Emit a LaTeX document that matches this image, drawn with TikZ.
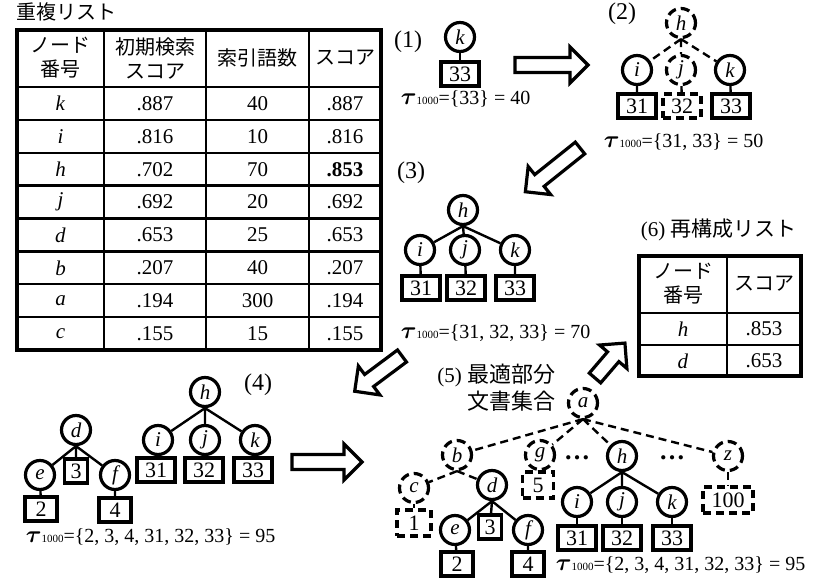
\documentclass[tikz,border=0pt]{standalone}
\usepackage{amsmath}
\usepackage{fontspec}
\setmainfont{Liberation Serif}
\newfontfamily\jp{Noto Sans CJK JP}
\usetikzlibrary{positioning}

\newcommand{\tauset}[1]{{\fontsize{13}{13}\selectfont$\boldsymbol{\tau}$}{\fontsize{5.5}{6}\selectfont 1000}#1}
\newcommand{\fatarrow}[3]{%
  \begin{scope}[shift={(#1)},rotate=#2]
    \draw[fat] (0,-7.5) -- ({#3-18},-7.5) -- ({#3-18},-18) -- (#3,0)
      -- ({#3-18},18) -- ({#3-18},7.5) -- (0,7.5) -- cycle;
  \end{scope}}

\begin{document}
\begin{tikzpicture}[x=0.5pt,y=-0.5pt,thick,
  font=\fontsize{10.5}{12.6}\selectfont,
  tnode/.style={circle,draw,line width=1.6pt,minimum size=14.5pt,inner sep=0pt,
    font=\fontsize{10.5}{12}\selectfont\itshape},
  dnode/.style={tnode,dash pattern=on 4.5pt off 2.5pt},
  doc/.style={rectangle,draw,line width=1.6pt,minimum width=19pt,minimum height=12pt,
    inner sep=0pt,font=\fontsize{11}{12}\selectfont},
  ddoc/.style={doc,dash pattern=on 4pt off 2.5pt},
  link/.style={line width=1.2pt},
  dlink/.style={line width=1.2pt,dash pattern=on 4pt off 2.5pt},
  fat/.style={line width=1.6pt,fill=white},
  tau/.style={anchor=base west,inner sep=0pt,font=\fontsize{10}{12}\selectfont},
  lbl/.style={font=\fontsize{12}{14}\selectfont,inner sep=0pt},
  tbl/.style={line width=1.2pt},
  jp/.style={font=\fontsize{10}{12}\selectfont\jp,align=center}]

  \useasboundingbox (0,0) rectangle (820,583);

  % duplicate list
  \node[inner sep=0pt,font=\fontsize{10}{12}\selectfont\jp] (dtitle) at (67,12) {重複リスト};
  \draw[tbl,line width=1.6pt] (17,30) rectangle (381,350);
  \foreach \x in {104,206,309} \draw[tbl] (\x,30) -- (\x,350);
  \foreach \n in {0,...,7} \draw[tbl] (17,{87+32.875*\n}) -- (381,{87+32.875*\n});
  \node[jp] (hd1) at (60.5,58) {ノード\\番号};
  \node[jp] (hd2) at (155,58) {初期検索\\スコア};
  \node[jp] (hd3) at (257.5,58) {索引語数};
  \node[jp] (hd4) at (345,58) {スコア};
  \foreach \n/\id/\ini/\num/\scr in {1/k/.887/40/.887,2/i/.816/10/.816,
      3/h/.702/70/\textbf{.853},4/j/.692/20/.692,5/d/.653/25/.653,
      6/b/.207/40/.207,7/a/.194/300/.194,8/c/.155/15/.155}{
    \node (id\n) at (60.5,{70.6+32.875*\n}) {\textit{\id}};
    \node (ini\n) at (155,{70.6+32.875*\n}) {\ini};
    \node (num\n) at (257.5,{70.6+32.875*\n}) {\num};
    \node (scr\n) at (345,{70.6+32.875*\n}) {\scr};
  }

  % (1)
  \node[lbl] (l1) at (408,42) {(1)};
  \node[tnode] (k1) at (460,37) {k};
  \node[doc] (b33a) at (460,74) {33};
  \draw[link] (k1) -- (b33a);
  \node[tau] (t1) at (400,105) {\tauset{=\{33\} = 40}};

  \fatarrow{515,65}{0}{73}

  % (2)
  \node[lbl] (l2) at (622,14) {(2)};
  \node[dnode] (h2) at (681,23) {h};
  \node[tnode] (i2) at (637,70) {i};
  \node[dnode] (j2) at (681,70) {j};
  \node[tnode] (k2) at (730,70) {k};
  \node[doc] (b31b) at (637,106) {31};
  \node[ddoc] (b32b) at (682,106) {32};
  \node[doc] (b33b) at (731,106) {33};
  \draw[dlink] (h2.south) -- (i2) (h2.south) -- (j2) (h2.south) -- (k2);
  \draw[link] (i2) -- (b31b) (k2) -- (b33b);
  \draw[dlink] (j2) -- (b32b);
  \node[tau] (t2) at (603,148) {\tauset{=\{31, 33\} = 50}};

  \fatarrow{580,148}{218.7}{70}

  % (3)
  \node[lbl] (l3) at (411,173) {(3)};
  \node[tnode] (h3) at (463,210) {h};
  \node[tnode] (i3) at (420,250) {i};
  \node[tnode] (j3) at (465,250) {j};
  \node[tnode] (k3) at (515,250) {k};
  \node[doc] (b31c) at (421,288) {31};
  \node[doc] (b32c) at (466,288) {32};
  \node[doc] (b33c) at (515,288) {33};
  \draw[link] (h3.south) -- (i3) (h3.south) -- (j3) (h3.south) -- (k3);
  \draw[link] (i3) -- (b31c) (j3) -- (b32c) (k3) -- (b33c);
  \node[tau] (t3) at (400,338) {\tauset{=\{31, 32, 33\} = 70}};

  % (6)
  \node[anchor=west,inner sep=0pt] (l6) at (640,230) {(6) {\jp\fontsize{10.5}{12}\selectfont 再構成リスト}};
  \draw[tbl,line width=1.6pt] (639,256) rectangle (801,376);
  \draw[tbl] (727,256) -- (727,376) (639,313) -- (801,313) (639,345) -- (801,345);
  \node[jp] (rh1) at (683,284) {ノード\\番号};
  \node[jp] (rh2) at (764,284) {スコア};
  \node (rid1) at (683,329) {\textit{h}};
  \node (rsc1) at (764,329) {.853};
  \node (rid2) at (683,361) {\textit{d}};
  \node (rsc2) at (764,361) {.653};

  \fatarrow{402,356}{216.7}{59}

  % (4)
  \node[lbl] (l4) at (258,385) {(4)};
  \node[tnode] (h4) at (205,392) {h};
  \node[tnode] (i4) at (158,440) {i};
  \node[tnode] (j4) at (205,440) {j};
  \node[tnode] (k4) at (255,440) {k};
  \node[doc] (b31d) at (156,470) {31};
  \node[doc] (b32d) at (204,470) {32};
  \node[doc] (b33d) at (253,470) {33};
  \draw[link] (h4.south) -- (i4) (h4.south) -- (j4) (h4.south) -- (k4);
  \draw[link] (i4) -- (b31d) (j4) -- (b32d) (k4) -- (b33d);
  \node[tnode] (d4) at (76,430) {d};
  \node[tnode] (e4) at (40,475) {e};
  \node[tnode] (f4) at (115,475) {f};
  \node[doc,minimum width=11.5pt] (b3d) at (76,471) {3};
  \node[doc,minimum width=16pt] (b2d) at (41,509) {2};
  \node[doc,minimum width=16pt] (b4d) at (115,510) {4};
  \draw[link] (d4.south) -- (e4) (d4.south) -- (b3d) (d4.south) -- (f4);
  \draw[link] (e4) -- (b2d) (f4) -- (b4d);
  \node[tau] (t4) at (25,542) {\tauset{=\{2, 3, 4, 31, 32, 33\} = 95}};

  \fatarrow{292,462}{0}{70}

  % (5)
  \node[anchor=east,align=right,inner sep=0pt,
    font=\fontsize{10.5}{13.5}\selectfont] (l5) at (556,388)
    {(5) {\jp\fontsize{11}{13.5}\selectfont 最適部分}\\{\jp\fontsize{11}{13.5}\selectfont 文書集合}};
  \node[dnode] (a5) at (583,403) {a};
  \node[dnode] (b5) at (457,455) {b};
  \node[dnode] (g5) at (540,455) {g};
  \node[tnode] (h5) at (622,456) {h};
  \node[dnode] (z5) at (728,456) {z};
  \node (dots1) at (577,458) {\fontsize{13}{13}\selectfont\textbf{…}};
  \node (dots2) at (672,458) {\fontsize{13}{13}\selectfont\textbf{…}};
  \draw[dlink] (a5.south) -- (b5) (a5.south) -- (g5) (a5.south) -- (h5) (a5.south) -- (z5);
  \node[dnode] (c5) at (414,488) {c};
  \node[tnode] (d5) at (492,485) {d};
  \draw[dlink] (b5.south) -- (c5) (b5.south) -- (d5);
  \node[ddoc,minimum width=15.5pt,minimum height=13pt] (b5e) at (538,485) {5};
  \draw[dlink] (g5) -- (b5e);
  \node[ddoc,minimum width=25pt,minimum height=13pt] (b100e) at (728,500) {100};
  \draw[dlink] (z5) -- (b100e);
  \node[ddoc,minimum width=17pt,minimum height=13pt] (b1e) at (414,523) {1};
  \draw[dlink] (c5) -- (b1e);
  \node[tnode] (e5) at (455,530) {e};
  \node[tnode] (f5) at (528,530) {f};
  \node[doc,minimum width=11.5pt] (b3e) at (490,527) {3};
  \node[doc,minimum width=16pt] (b2e) at (457,564) {2};
  \node[doc,minimum width=16pt] (b4e) at (528,564) {4};
  \draw[link] (d5.south) -- (e5) (d5.south) -- (b3e) (d5.south) -- (f5);
  \draw[link] (e5) -- (b2e) (f5) -- (b4e);
  \node[tnode] (i5) at (577,502) {i};
  \node[tnode] (j5) at (622,502) {j};
  \node[tnode] (k5) at (672,502) {k};
  \node[doc] (b31e) at (577,538) {31};
  \node[doc] (b32e) at (622,538) {32};
  \node[doc] (b33e) at (672,538) {33};
  \draw[link] (h5.south) -- (i5) (h5.south) -- (j5) (h5.south) -- (k5);
  \draw[link] (i5) -- (b31e) (j5) -- (b32e) (k5) -- (b33e);
  \node[tau] (t5) at (555,570) {\tauset{=\{2, 3, 4, 31, 32, 33\} = 95}};

  \fatarrow{595,378}{49.4}{46}
\end{tikzpicture}
\end{document}
